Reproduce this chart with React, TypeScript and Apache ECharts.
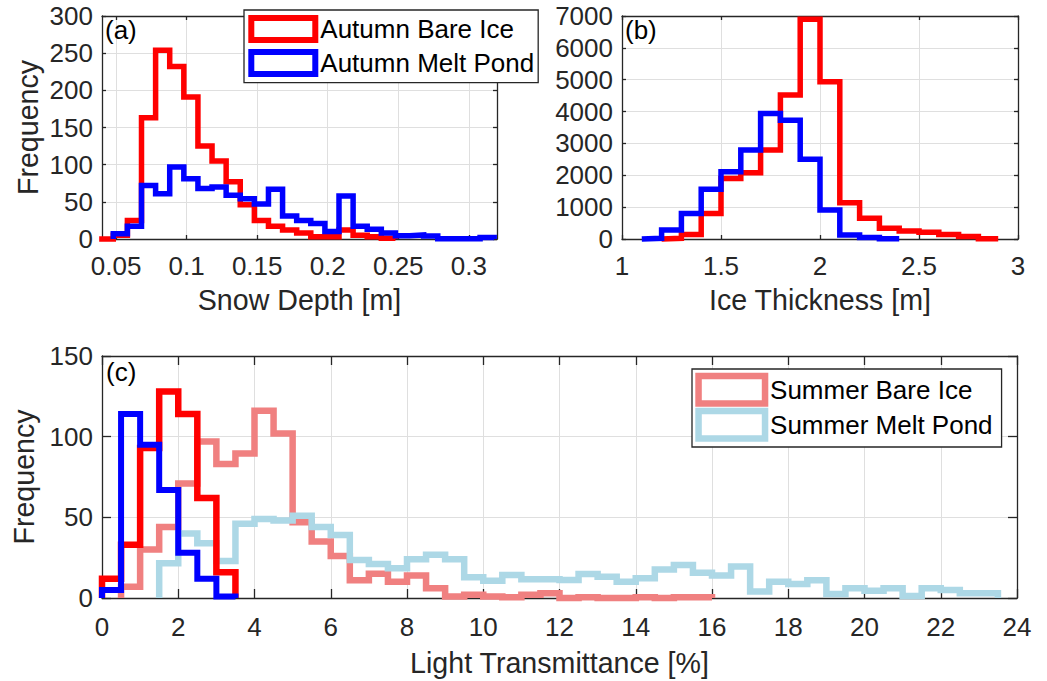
import React, { useEffect, useRef } from "react";
import * as echarts from "echarts";

const FONT = "'Liberation Sans', Arial, Helvetica, sans-serif";
const AXIS_COLOR = "#262626";
const GRID_COLOR = "#dfdfdf";

// ---------- (a) Snow depth [m] ----------
const snowBinWidth = 0.01;
const snowBareIceStart = 0.038;
const snowBareIceCounts = [0, 5, 25, 163, 254, 232, 191, 125, 105, 77, 46, 25, 17, 12, 8, 3, 3, 12, 5, 3, 1];
const snowMeltPondStart = 0.048;
const snowMeltPondCounts = [7, 17, 72, 61, 97, 81, 68, 70, 59, 54, 47, 67, 31, 25, 21, 10, 58, 17, 13, 8, 4.5, 5.4, 4, 0.5, 0.5, 0.5, 2];
const snowTicks = [0.05, 0.1, 0.15, 0.2, 0.25, 0.3];

// ---------- (b) Ice thickness [m] ----------
const iceBinWidth = 0.1;
const iceBareIceStart = 1.2;
const iceBareIceCounts = [20, 145, 800, 1900, 2080, 2790, 4520, 6900, 4940, 1140, 650, 335, 250, 210, 145, 75, 10];
const iceMeltPondStart = 1.1;
const iceMeltPondCounts = [20, 280, 800, 1560, 2110, 2790, 3940, 3730, 2500, 910, 125, 50, 10];

// ---------- (c) Light transmittance [%] ----------
const lightBinWidth = 0.5;
const lightAutumnBareIceStart = 0;
const lightAutumnBareIceCounts = [12, 33, 93, 128, 114, 62, 16];
const lightAutumnMeltPondStart = 0;
const lightAutumnMeltPondCounts = [5, 114, 95, 67, 28, 12, 1];
const lightSummerBareIceStart = 0.5;
const lightSummerBareIceCounts = [
  7, 30, 44, 71, 97, 83, 89.5, 116, 102, 47, 35, 26, 11, 15, 10, 14, 6, 1, 2, 1, 0.5, 2, 3, 0, 0.5, 0, 0, 0.5, 0, 0.5, 0.5,
];
const lightSummerMeltPondStart = 1.5;
const lightSummerMeltPondCounts = [
  21.5, 40, 34, 23, 46, 49, 48, 51, 44, 39, 23.5, 21, 18.5, 24, 26.8, 24, 12.8, 10.7, 14.2, 11.6, 11.6, 11.1, 14.9, 13.2,
  10.1, 12.2, 17.7, 20.4, 15.7, 14, 19.6, 4, 10, 8.7, 11, 2.5, 6, 4.5, 6, 1.2, 6, 5, 3, 3,
];

const NAMES = ["Autumn Bare Ice", "Autumn Melt Pond", "Summer Bare Ice", "Summer Melt Pond"];
const COLORS = ["#FF0000", "#0000FF", "#F08080", "#ADD8E6"];
const PANEL_LABELS = ["(a)", "(b)", "(c)"];
const X_TITLES = ["Snow Depth [m]", "Ice Thickness [m]", "Light Transmittance [%]"];
const Y_TITLE = "Frequency";

function stairs(start: number, width: number, counts: number[]): number[][] {
  const pts: number[][] = [[start, 0]];
  counts.forEach((c, i) => {
    const x0 = +(start + i * width).toFixed(4);
    const x1 = +(start + (i + 1) * width).toFixed(4);
    pts.push([x0, c], [x1, c]);
  });
  pts.push([+(start + counts.length * width).toFixed(4), 0]);
  return pts;
}

type AxisCfg = {
  min: number;
  max: number;
  interval?: number;
  ticks?: number[];
  tickLen: number;
  name?: string;
  nameGap?: number;
  labelMargin: number;
  formatter?: (v: number) => string;
};

function axisPair(kind: "x" | "y", gridIndex: number, cfg: AxisCfg) {
  const line = { show: true, onZero: false, lineStyle: { color: AXIS_COLOR, width: 1.3 } };
  const tick = {
    show: true,
    inside: true,
    length: cfg.tickLen,
    lineStyle: { color: AXIS_COLOR, width: 1.3 },
    ...(cfg.ticks ? { customValues: cfg.ticks } : {}),
  };
  const base: any = {
    type: "value",
    gridIndex,
    min: cfg.min,
    max: cfg.max,
    axisLine: line,
    axisTick: tick,
  };
  if (cfg.interval !== undefined) base.interval = cfg.interval;
  const main: any = {
    ...base,
    position: kind === "x" ? "bottom" : "left",
    axisLabel: {
      show: true,
      margin: cfg.labelMargin,
      fontSize: 26,
      fontFamily: FONT,
      color: AXIS_COLOR,
      formatter: cfg.formatter || ((v: number) => String(v)),
      ...(cfg.ticks ? { customValues: cfg.ticks } : {}),
    },
    splitLine: { show: true, lineStyle: { color: GRID_COLOR, width: 1 } },
  };
  if (cfg.name) {
    main.name = cfg.name;
    main.nameLocation = "middle";
    main.nameGap = cfg.nameGap;
    main.nameTextStyle = { fontSize: 28.6, fontFamily: FONT, color: AXIS_COLOR };
  }
  const mirror: any = {
    ...base,
    position: kind === "x" ? "top" : "right",
    axisLabel: { show: false },
    splitLine: { show: false },
  };
  return [main, mirror];
}

function hist(name: string, color: string, width: number, axisIdx: number, start: number, binW: number, counts: number[]) {
  return {
    type: "line",
    name,
    xAxisIndex: axisIdx,
    yAxisIndex: axisIdx,
    data: stairs(start, binW, counts),
    symbol: "none",
    showSymbol: false,
    clip: false,
    silent: true,
    lineStyle: { color, width, join: "miter", cap: "butt" },
    itemStyle: { color },
    emphasis: { disabled: true },
  };
}

function legendItem(i: number, bw: number) {
  return {
    name: NAMES[i],
    icon: "rect",
    itemStyle: { color: "#ffffff", borderColor: COLORS[i], borderWidth: bw },
  };
}

export default function App() {
  const ref = useRef<HTMLDivElement | null>(null);

  useEffect(() => {
    document.body.style.margin = "0";
    if (!ref.current) return;
    const chart = echarts.init(ref.current, undefined, { renderer: "svg" });

    const fmt2 = (v: number) => String(Math.round(v * 100) / 100);

    const [ax, axTop] = axisPair("x", 0, {
      min: 0.04, max: 0.32, ticks: snowTicks, tickLen: 4, name: X_TITLES[0], nameGap: 46, labelMargin: 14, formatter: fmt2,
    });
    const [ay, ayRight] = axisPair("y", 0, { min: 0, max: 300, interval: 50, tickLen: 4, name: Y_TITLE, nameGap: 60, labelMargin: 9 });
    const [bx, bxTop] = axisPair("x", 1, {
      min: 1, max: 3, interval: 0.5, tickLen: 4, name: X_TITLES[1], nameGap: 46, labelMargin: 14, formatter: fmt2,
    });
    const [by, byRight] = axisPair("y", 1, { min: 0, max: 7000, interval: 1000, tickLen: 4, labelMargin: 9 });
    const [cx, cxTop] = axisPair("x", 2, { min: 0, max: 24, interval: 2, tickLen: 9, name: X_TITLES[2], nameGap: 50, labelMargin: 16 });
    const [cy, cyRight] = axisPair("y", 2, { min: 0, max: 150, interval: 50, tickLen: 9, name: Y_TITLE, nameGap: 60, labelMargin: 9 });

    const option: any = {
      animation: false,
      backgroundColor: "#ffffff",
      textStyle: { fontFamily: FONT },
      grid: [
        { left: 102, top: 16, width: 395, height: 223, containLabel: false },
        { left: 622, top: 16, width: 396, height: 223, containLabel: false },
        { left: 102, top: 356, width: 915, height: 242, containLabel: false },
      ],
      xAxis: [ax, axTop, bx, bxTop, cx, cxTop],
      yAxis: [ay, ayRight, by, byRight, cy, cyRight],
      legend: [
        {
          orient: "vertical",
          left: 244,
          top: 10,
          data: [legendItem(0, 6), legendItem(1, 6)],
          itemWidth: 64,
          itemHeight: 22,
          itemGap: 6,
          padding: [5, 4, 5.6, 4.3],
          borderColor: AXIS_COLOR,
          borderWidth: 1.3,
          backgroundColor: "#ffffff",
          selectedMode: false,
          z: 10,
          textStyle: { fontSize: 26, fontFamily: FONT, color: "#000000", padding: 0 },
        },
        {
          orient: "vertical",
          left: 692,
          top: 369,
          data: [legendItem(2, 6.5), legendItem(3, 6.5)],
          itemWidth: 66.5,
          itemHeight: 27.5,
          itemGap: 1,
          padding: [3.7, 9, 5.3, 3.3],
          borderColor: AXIS_COLOR,
          borderWidth: 1.3,
          backgroundColor: "#ffffff",
          selectedMode: false,
          z: 10,
          textStyle: { fontSize: 26, fontFamily: FONT, color: "#000000", padding: 0 },
        },
      ],
      graphic: [
        { type: "text", left: 105, top: 17, z: 100, style: { text: PANEL_LABELS[0], font: `26px ${FONT}`, fill: "#000" } },
        { type: "text", left: 625, top: 17, z: 100, style: { text: PANEL_LABELS[1], font: `26px ${FONT}`, fill: "#000" } },
        { type: "text", left: 106, top: 359, z: 100, style: { text: PANEL_LABELS[2], font: `26px ${FONT}`, fill: "#000" } },
      ],
      series: [
        // (a)
        hist(NAMES[0], COLORS[0], 5.5, 0, snowBareIceStart, snowBinWidth, snowBareIceCounts),
        hist(NAMES[1], COLORS[1], 5.5, 0, snowMeltPondStart, snowBinWidth, snowMeltPondCounts),
        // (b)
        hist(NAMES[0], COLORS[0], 5.5, 2, iceBareIceStart, iceBinWidth, iceBareIceCounts),
        hist(NAMES[1], COLORS[1], 5.5, 2, iceMeltPondStart, iceBinWidth, iceMeltPondCounts),
        // (c)
        hist(NAMES[2], COLORS[2], 6.5, 4, lightSummerBareIceStart, lightBinWidth, lightSummerBareIceCounts),
        hist(NAMES[3], COLORS[3], 6.5, 4, lightSummerMeltPondStart, lightBinWidth, lightSummerMeltPondCounts),
        hist(NAMES[0], COLORS[0], 6.5, 4, lightAutumnBareIceStart, lightBinWidth, lightAutumnBareIceCounts),
        hist(NAMES[1], COLORS[1], 6, 4, lightAutumnMeltPondStart, lightBinWidth, lightAutumnMeltPondCounts),
      ],
    };

    chart.setOption(option);
    return () => {
      chart.dispose();
    };
  }, []);

  return (
    <div
      ref={ref}
      style={{ position: "fixed", left: 0, top: 0, width: 1047, height: 681, background: "#ffffff" }}
    />
  );
}
